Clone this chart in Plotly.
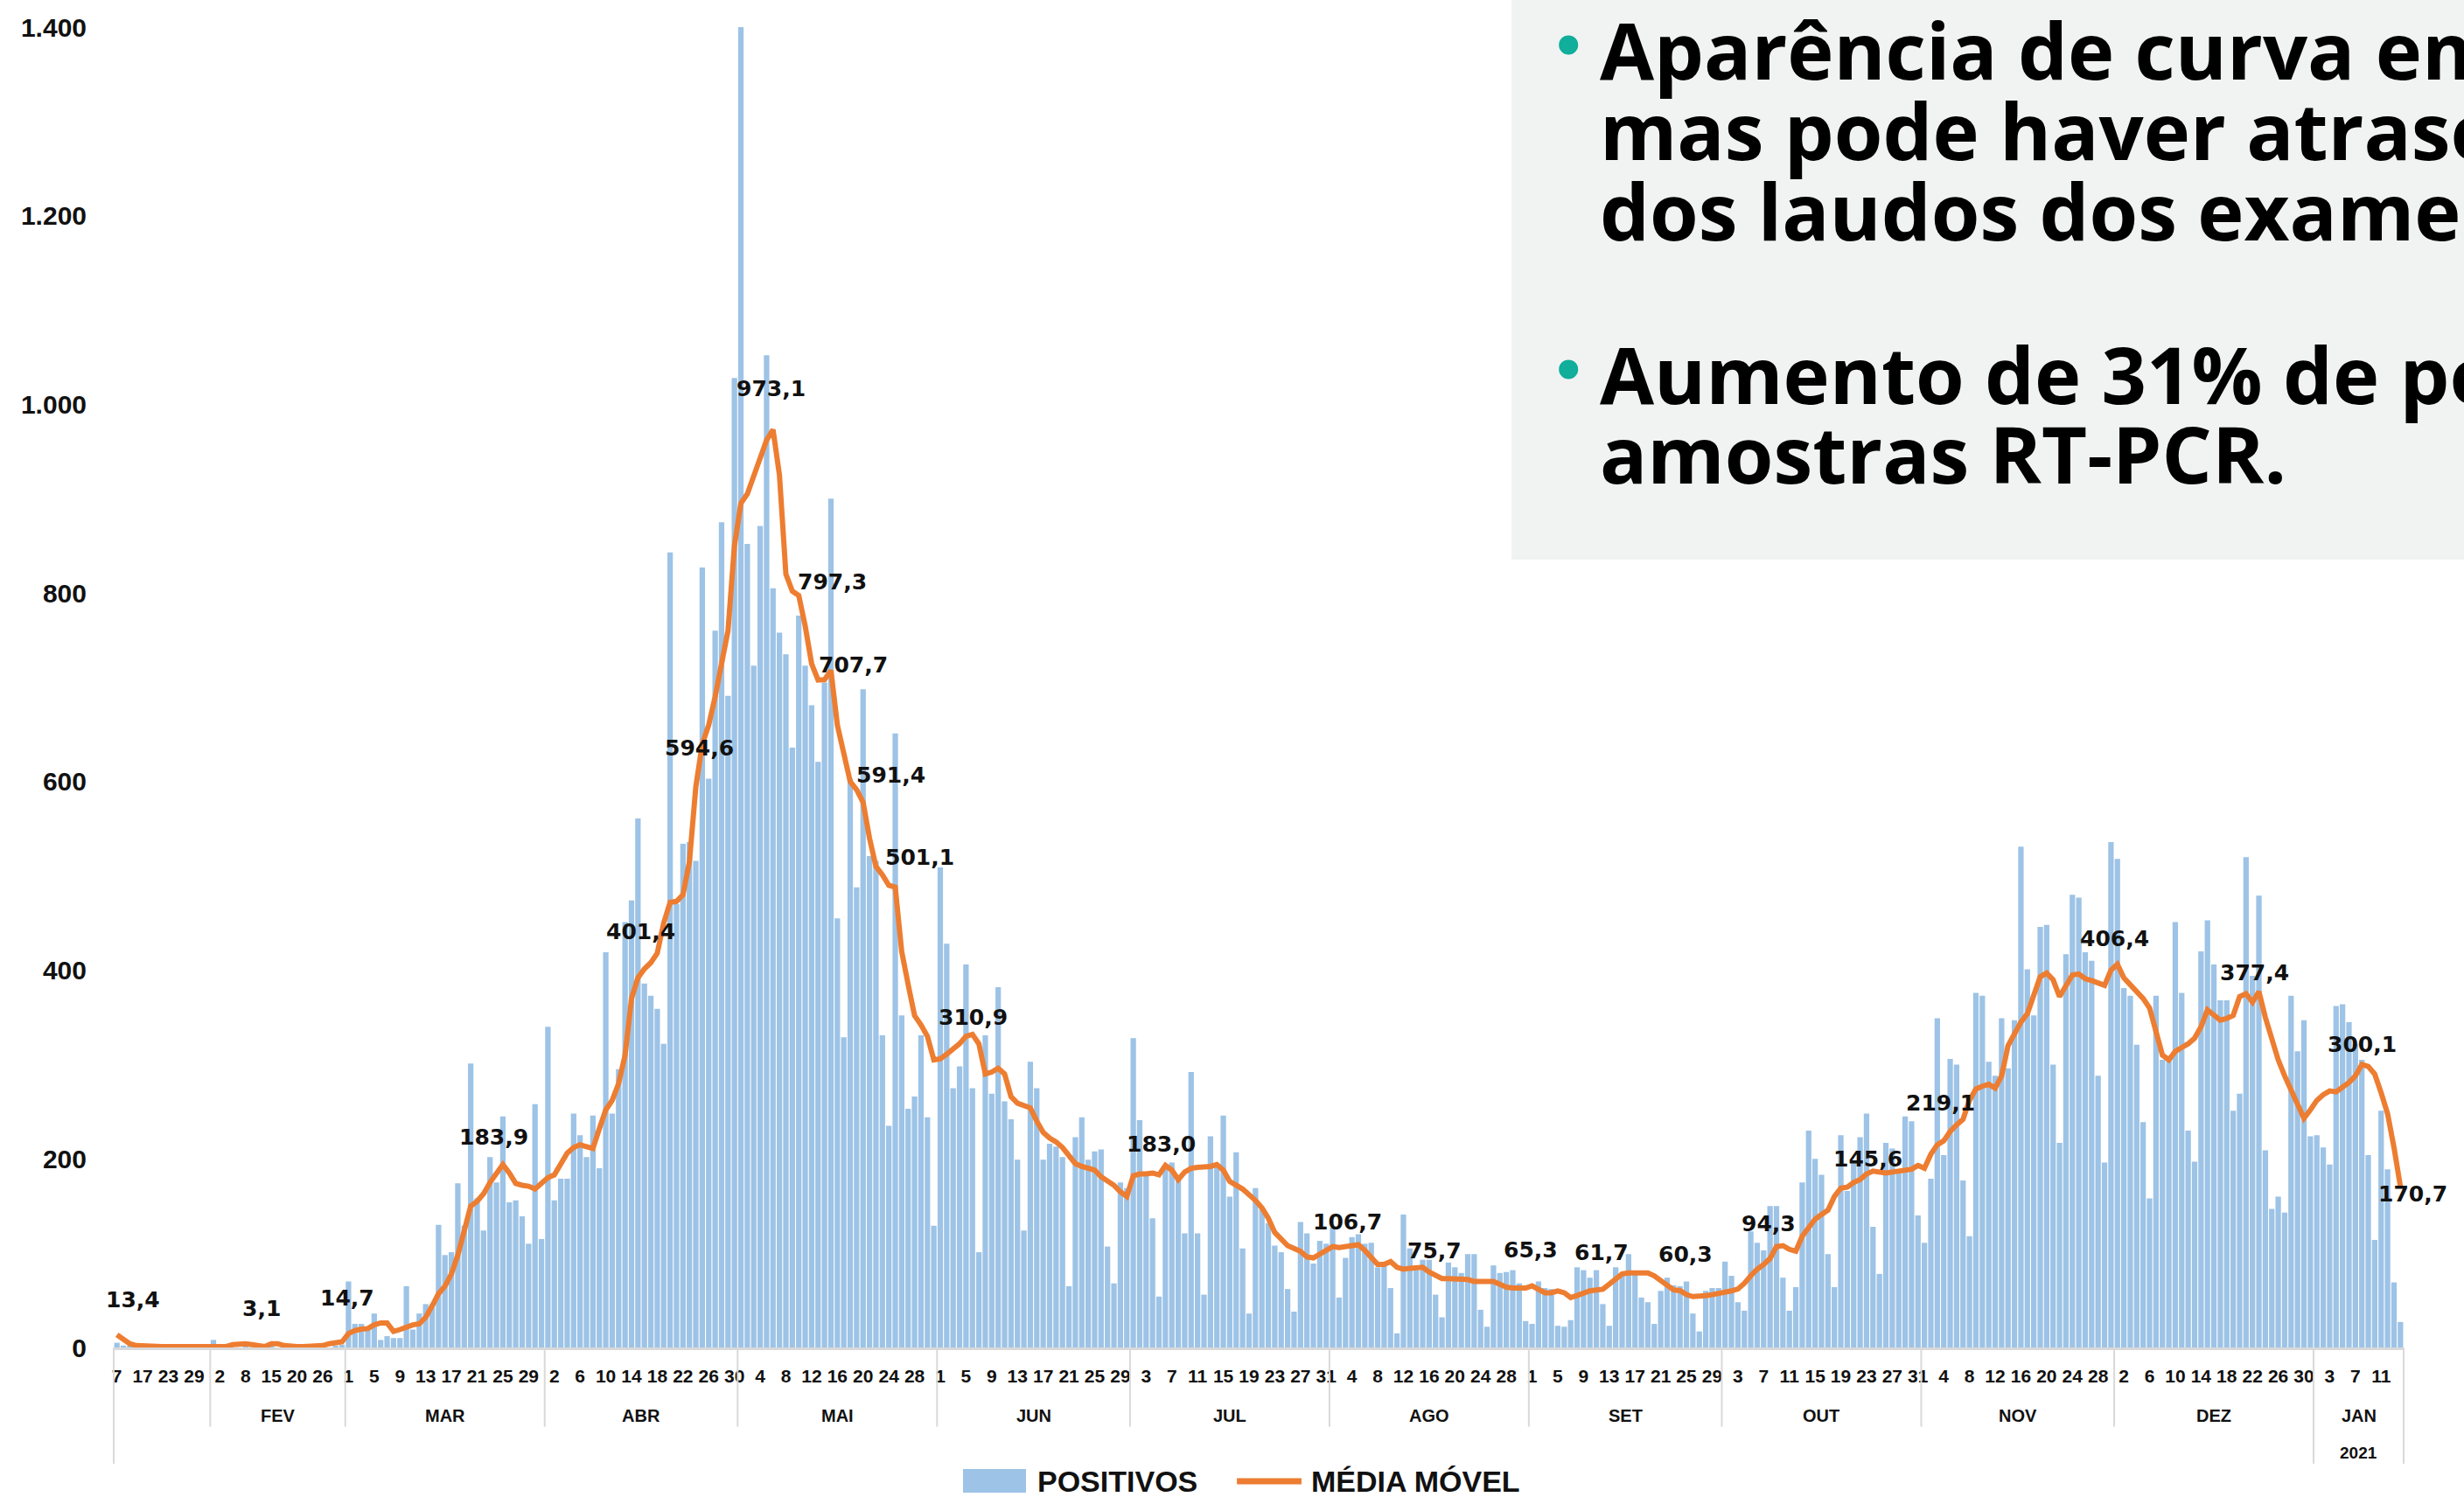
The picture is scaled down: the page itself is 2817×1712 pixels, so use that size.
import datetime as dt
import plotly.graph_objects as go

# ---------------- categories ----------------
jan20_days = [7, 9, 11, 14, 17, 18, 20, 22, 23, 24, 27, 28, 29, 30, 31]
feb20_days = [1, 2, 3, 4, 6, 8, 9, 11, 13, 15, 16, 17, 19, 20, 21, 24, 25, 26, 27, 28, 29]
daily_start = dt.date(2020, 3, 1)
daily_end = dt.date(2021, 1, 14)

# ---------------- POSITIVOS (daily bars) ----------------
pos_jan20 = [5, 2, 1, 0, 0, 0, 0, 0, 0, 0, 0, 1, 0, 0, 0]
pos_feb20 = [8, 0, 0, 0, 0, 2, 0, 0, 0, 3, 0, 0, 0, 0, 0, 0, 0, 0, 0, 2, 3]
pos_mar20 = [70, 25, 25, 20, 36, 8, 12, 10, 10, 65, 19, 36, 46, 46, 130, 98, 101, 174, 129, 301,
             158, 124, 202, 175, 245, 154, 156, 139, 110, 258, 115]
pos_apr20 = [340, 156, 179, 179, 248, 225, 202, 246, 190, 419, 248, 295, 451, 474, 561, 386, 373,
             359, 322, 843, 470, 534, 536, 516, 827, 603, 760, 875, 691, 1028]
pos_may20 = [1400, 852, 723, 871, 1052, 805, 758, 735, 636, 776, 723, 681, 621, 705, 900, 455, 329,
             603, 488, 698, 521, 516, 331, 235, 651, 352, 253, 266, 331, 244, 129]
pos_jun20 = [509, 428, 275, 298, 406, 275, 101, 331, 269, 382, 261, 242, 199, 124, 303, 275, 199,
             216, 213, 202, 65, 223, 244, 199, 208, 210, 107, 68, 175, 169]
pos_jul20 = [328, 241, 186, 137, 54, 191, 196, 180, 121, 292, 121, 56, 224, 192, 246, 160, 207, 105,
             36, 169, 147, 132, 108, 101, 62, 38, 133, 121, 89, 113, 110]
pos_aug20 = [127, 53, 95, 117, 120, 110, 111, 85, 87, 63, 15, 141, 105, 82, 93, 93, 56, 32, 90, 85,
             79, 99, 99, 40, 22, 87, 79, 80, 82, 68, 28]
pos_sep20 = [25, 70, 63, 62, 23, 22, 29, 85, 82, 74, 82, 46, 23, 85, 79, 99, 79, 53, 48, 25, 60, 74,
             66, 65, 70, 36, 17, 60, 63, 63]
pos_oct20 = [91, 76, 48, 39, 123, 111, 103, 150, 150, 74, 39, 64, 175, 230, 200, 183, 99, 64, 225,
             166, 198, 223, 248, 128, 78, 217, 211, 189, 245, 240, 140]
pos_nov20 = [111, 179, 349, 204, 306, 300, 177, 118, 376, 373, 303, 288, 349, 296, 347, 531, 401,
             352, 446, 448, 300, 217, 417, 480, 477, 419, 410, 288, 196, 536]
pos_dec20 = [518, 381, 373, 321, 239, 158, 373, 305, 309, 451, 376, 230, 197, 420, 453, 406, 368,
             368, 251, 269, 520, 394, 479, 209, 147, 160, 143, 373, 314, 347, 224]
pos_jan21 = [225, 212, 194, 362, 364, 345, 322, 305, 204, 114, 251, 189, 69, 27]

# ---------------- MÉDIA MÓVEL (line) ----------------
ma_jan20 = [13.4, 8, 4, 2, 1.5, 1, 1, 1, 1, 1, 1, 1, 1, 1, 1]
ma_feb20 = [1, 1, 1, 3, 4, 4, 3.1, 2, 1, 4, 4, 2, 1, 1, 1, 1, 1, 2, 4, 5, 6]
ma_mar20 = [14.7, 18, 19.5, 20, 24, 26, 26, 17, 19, 22, 24, 25, 32, 44, 57, 65, 78, 98, 124, 150,
            155, 163, 175, 183.9, 194, 185, 174, 172, 171, 168, 174]
ma_apr20 = [180, 183, 195, 206, 212, 215, 213, 211, 232, 252, 262, 280, 310, 370, 392, 401.4, 408,
            418, 450, 472, 473, 480, 515, 594.6, 640, 660, 690, 725, 760, 850]
ma_may20 = [895, 905, 925, 945, 962, 973.1, 925, 820, 802, 797.3, 765, 725, 707.7, 708, 718, 660,
            630, 600, 591.4, 578, 540, 510, 501.1, 490, 488, 420, 385, 352, 342, 330, 305]
ma_jun20 = [306, 310.9, 316, 322, 330, 332, 322, 290, 292, 296, 290, 266, 259, 256, 254, 240, 228,
            222, 218, 212, 203, 195, 192, 190, 188, 181, 177, 172, 165, 160]
ma_jul20 = [182, 184, 184, 185, 183.0, 193, 188, 178, 186, 190, 191, 191, 192, 194, 188, 176, 172,
            168, 162, 156, 148, 137, 122, 114, 108, 105, 102, 96, 95, 99, 103]
ma_aug20 = [107, 106, 106.7, 108, 109, 103, 96, 88, 88, 91, 85, 83, 84, 84, 85, 80, 75.7, 73, 73, 73,
            73, 72, 70, 70, 70, 70, 67, 64, 63, 63, 63]
ma_sep20 = [65.3, 62, 58, 58, 60, 58, 53, 55, 58, 60, 61, 61.7, 67, 73, 78, 79, 79, 79, 79, 76, 71,
            66, 61, 60.3, 56, 54, 54, 55, 56, 57]
ma_oct20 = [58, 60, 62, 68, 76, 83, 88, 94.3, 107, 108, 104, 102, 118, 128, 136, 141, 145.6, 160,
            169, 170, 175, 178, 184, 187, 186, 185, 186, 187, 188, 189, 193]
ma_nov20 = [190, 205, 215, 219.1, 229, 236, 242, 262, 274, 277, 279, 275, 288, 320, 334, 345, 354,
            375, 393, 397, 390, 372, 383, 395, 396, 391, 389, 386, 384, 400]
ma_dec20 = [406.4, 392, 385, 377, 370, 360, 335, 310, 305, 314, 318, 322, 328, 340, 358, 352, 347,
            349, 352, 372, 375, 366, 377.4, 350, 325, 305, 288, 272, 258, 243, 252]
ma_jan21 = [262, 268, 272, 271, 276, 281, 288, 300.1, 298, 290, 270, 248, 212, 170.7]

# ---------------- data labels ----------------
label_texts = ["13,4", "3,1", "14,7", "183,9", "401,4", "594,6", "973,1", "797,3", "707,7",
               "591,4", "501,1", "310,9", "183,0", "106,7", "75,7", "65,3", "61,7", "60,3",
               "94,3", "145,6", "219,1", "406,4", "377,4", "300,1", "170,7"]
label_dates = ["2020-01-07", "2020-02-11", "2020-03-01", "2020-03-24", "2020-04-16", "2020-04-24",
               "2020-05-06", "2020-05-10", "2020-05-13", "2020-05-19", "2020-05-23", "2020-06-02",
               "2020-07-05", "2020-08-03", "2020-08-17", "2020-09-01", "2020-09-12", "2020-09-24",
               "2020-10-08", "2020-10-17", "2020-11-04", "2020-12-01", "2020-12-23", "2021-01-08",
               "2021-01-14"]

month_names = {"2020-01": "", "2020-02": "FEV", "2020-03": "MAR", "2020-04": "ABR", "2020-05": "MAI",
               "2020-06": "JUN", "2020-07": "JUL", "2020-08": "AGO", "2020-09": "SET",
               "2020-10": "OUT", "2020-11": "NOV", "2020-12": "DEZ", "2021-01": "JAN"}
year_label = {"2021-01": "2021"}

bullet_lines = [["Aparência de curva em queda,", "mas pode haver atrasos", "dos laudos dos exames."],
                ["Aumento de 31% de positivos nas", "amostras RT-PCR."]]

# ---------------- build series ----------------
cats = [f"2020-01-{d:02d}" for d in jan20_days] + [f"2020-02-{d:02d}" for d in feb20_days]
day = daily_start
while day <= daily_end:
    cats.append(day.isoformat())
    day += dt.timedelta(days=1)

positivos = (pos_jan20 + pos_feb20 + pos_mar20 + pos_apr20 + pos_may20 + pos_jun20 + pos_jul20
             + pos_aug20 + pos_sep20 + pos_oct20 + pos_nov20 + pos_dec20 + pos_jan21)
media = (ma_jan20 + ma_feb20 + ma_mar20 + ma_apr20 + ma_may20 + ma_jun20 + ma_jul20 + ma_aug20
         + ma_sep20 + ma_oct20 + ma_nov20 + ma_dec20 + ma_jan21)
N = len(cats)
assert len(positivos) == N and len(media) == N, (N, len(positivos), len(media))

BAR_COLOR = "#9DC3E6"
LINE_COLOR = "#ED7D31"
SEP_COLOR = "#D9D9D9"
AXIS_FONT = "Liberation Sans Narrow, Arial Narrow, Liberation Sans, sans-serif"
LABEL_FONT = "DejaVu Sans, Verdana, sans-serif"

fig = go.Figure()
fig.add_trace(go.Bar(x=cats, y=positivos, name="POSITIVOS", marker=dict(color=BAR_COLOR, line=dict(width=0)),
                     showlegend=False))
fig.add_trace(go.Scatter(x=cats, y=media, name="MÉDIA MÓVEL", mode="lines",
                         line=dict(color=LINE_COLOR, width=6), showlegend=False))

# data labels anchored on the moving-average points
label_shift = [(18, 40), (4, 42), (-1, 41), (-3, 42), (-4, 43), (4, 44), (-2, 47), (38, 16), (40, 17),
               (39, 17), (43, 20), (30, 42), (2, 35), (2, 28), (-1, 29), (-2, 41), (-1, 42), (6, 41),
               (-2, 40), (46, 58), (-4, 43), (-3, 29), (-5, 21), (0, 23), (14, -9)]
annotations = []
for txt, dte, (dx, dy) in zip(label_texts, label_dates, label_shift):
    i = cats.index(dte)
    annotations.append(dict(x=dte, y=media[i], xref="x", yref="y", text=txt, showarrow=False,
                            xanchor="center", yanchor="middle", xshift=dx, yshift=dy,
                            font=dict(family=LABEL_FONT, size=25, color="#111111", weight="bold")))

# month groups -> labels and separators
groups = []
for i, c in enumerate(cats):
    key = c[:7]
    if not groups or groups[-1][0] != key:
        groups.append([key, i, i])
    else:
        groups[-1][2] = i


def px(idx):
    return (idx + 0.5) / N


shapes = []
Y_MONTH_BOTTOM = -0.060
Y_YEAR_BOTTOM = -0.088
for g, (key, i0, i1) in enumerate(groups):
    deep = (g == 0) or (key in year_label)
    shapes.append(dict(type="line", xref="paper", yref="paper", x0=px(i0 - 0.5), x1=px(i0 - 0.5),
                       y0=0, y1=Y_YEAR_BOTTOM if deep else Y_MONTH_BOTTOM,
                       line=dict(color=SEP_COLOR, width=2)))
    if month_names.get(key):
        annotations.append(dict(x=px((i0 + i1) / 2), y=-0.0517, xref="paper", yref="paper",
                                text=month_names[key], showarrow=False, xanchor="center", yanchor="middle",
                                font=dict(family=AXIS_FONT, size=20, color="#111111", weight="bold")))
    if key in year_label:
        annotations.append(dict(x=px((i0 + i1) / 2), y=-0.080, xref="paper", yref="paper",
                                text=year_label[key], showarrow=False, xanchor="center", yanchor="middle",
                                font=dict(family=AXIS_FONT, size=19, color="#111111", weight="bold")))
shapes.append(dict(type="line", xref="paper", yref="paper", x0=px(N - 0.5), x1=px(N - 0.5),
                   y0=0, y1=Y_YEAR_BOTTOM, line=dict(color=SEP_COLOR, width=2)))

# grey text panel (top right)
shapes.append(dict(type="rect", xref="paper", yref="paper", x0=0.6104, x1=1.2, y0=0.5967, y1=1.2,
                   fillcolor="#F1F3F2", line=dict(width=0), layer="above"))
line_y = [[0.9835, 0.9226, 0.8616], [0.7378, 0.6775]]
for b, lines in enumerate(bullet_lines):
    shapes.append(dict(type="circle", xref="paper", yref="paper", xsizemode="pixel", ysizemode="pixel",
                       xanchor=0.6353, yanchor=line_y[b][0] + 0.003, x0=-11, x1=11, y0=-11, y1=11,
                       fillcolor="#10AE9B", line=dict(width=0), layer="above"))
    for t, yy in zip(lines, line_y[b]):
        annotations.append(dict(x=0.6482, y=yy, xref="paper", yref="paper", text=t, showarrow=False,
                                xanchor="left", yanchor="middle",
                                font=dict(family="Open Sans, Lato, sans-serif", size=90, color="#000000",
                                          weight="bold")))

# manual legend
shapes.append(dict(type="rect", xref="paper", yref="paper", x0=0.3709, x1=0.3984, y0=-0.1099, y1=-0.0921,
                   fillcolor=BAR_COLOR, line=dict(width=0)))
shapes.append(dict(type="line", xref="paper", yref="paper", x0=0.4905, x1=0.5187, y0=-0.1013, y1=-0.1013,
                   line=dict(color=LINE_COLOR, width=7)))
for xx, name in [(0.4026, "POSITIVOS"), (0.5222, "MÉDIA MÓVEL")]:
    annotations.append(dict(x=xx, y=-0.1013, xref="paper", yref="paper", text=name, showarrow=False,
                            xanchor="left", yanchor="middle",
                            font=dict(family=AXIS_FONT, size=34, color="#111111", weight="bold")))

tick_idx = list(range(0, N, 4))
fig.update_layout(
    width=2817, height=1712,
    margin=dict(l=130, r=69, t=31, b=171),
    paper_bgcolor="white", plot_bgcolor="white",
    separators=",.",
    bargap=0.15,
    showlegend=False,
    shapes=shapes,
    annotations=annotations,
    xaxis=dict(type="category", categoryorder="array", categoryarray=cats, range=[-0.5, N - 0.5],
               tickmode="array", tickvals=[cats[i] for i in tick_idx],
               ticktext=[str(int(cats[i][-2:])) for i in tick_idx], tickangle=0,
               tickfont=dict(family=AXIS_FONT, size=21, color="#111111", weight="bold"),
               showgrid=False, zeroline=False, showline=True, linecolor=SEP_COLOR, linewidth=3,
               ticks="", ticklabelstandoff=12),
    yaxis=dict(range=[0, 1400], tickmode="array", tickvals=list(range(0, 1401, 200)), tickformat=",",
               tickfont=dict(family=AXIS_FONT, size=30, color="#111111", weight="bold"),
               showgrid=False, zeroline=False, showline=False, ticks="", ticklabelstandoff=30),
)

fig.write_html("out.html", config={"displayModeBar": False},
               post_script="document.body.style.margin='0';document.body.style.overflow='hidden';")
